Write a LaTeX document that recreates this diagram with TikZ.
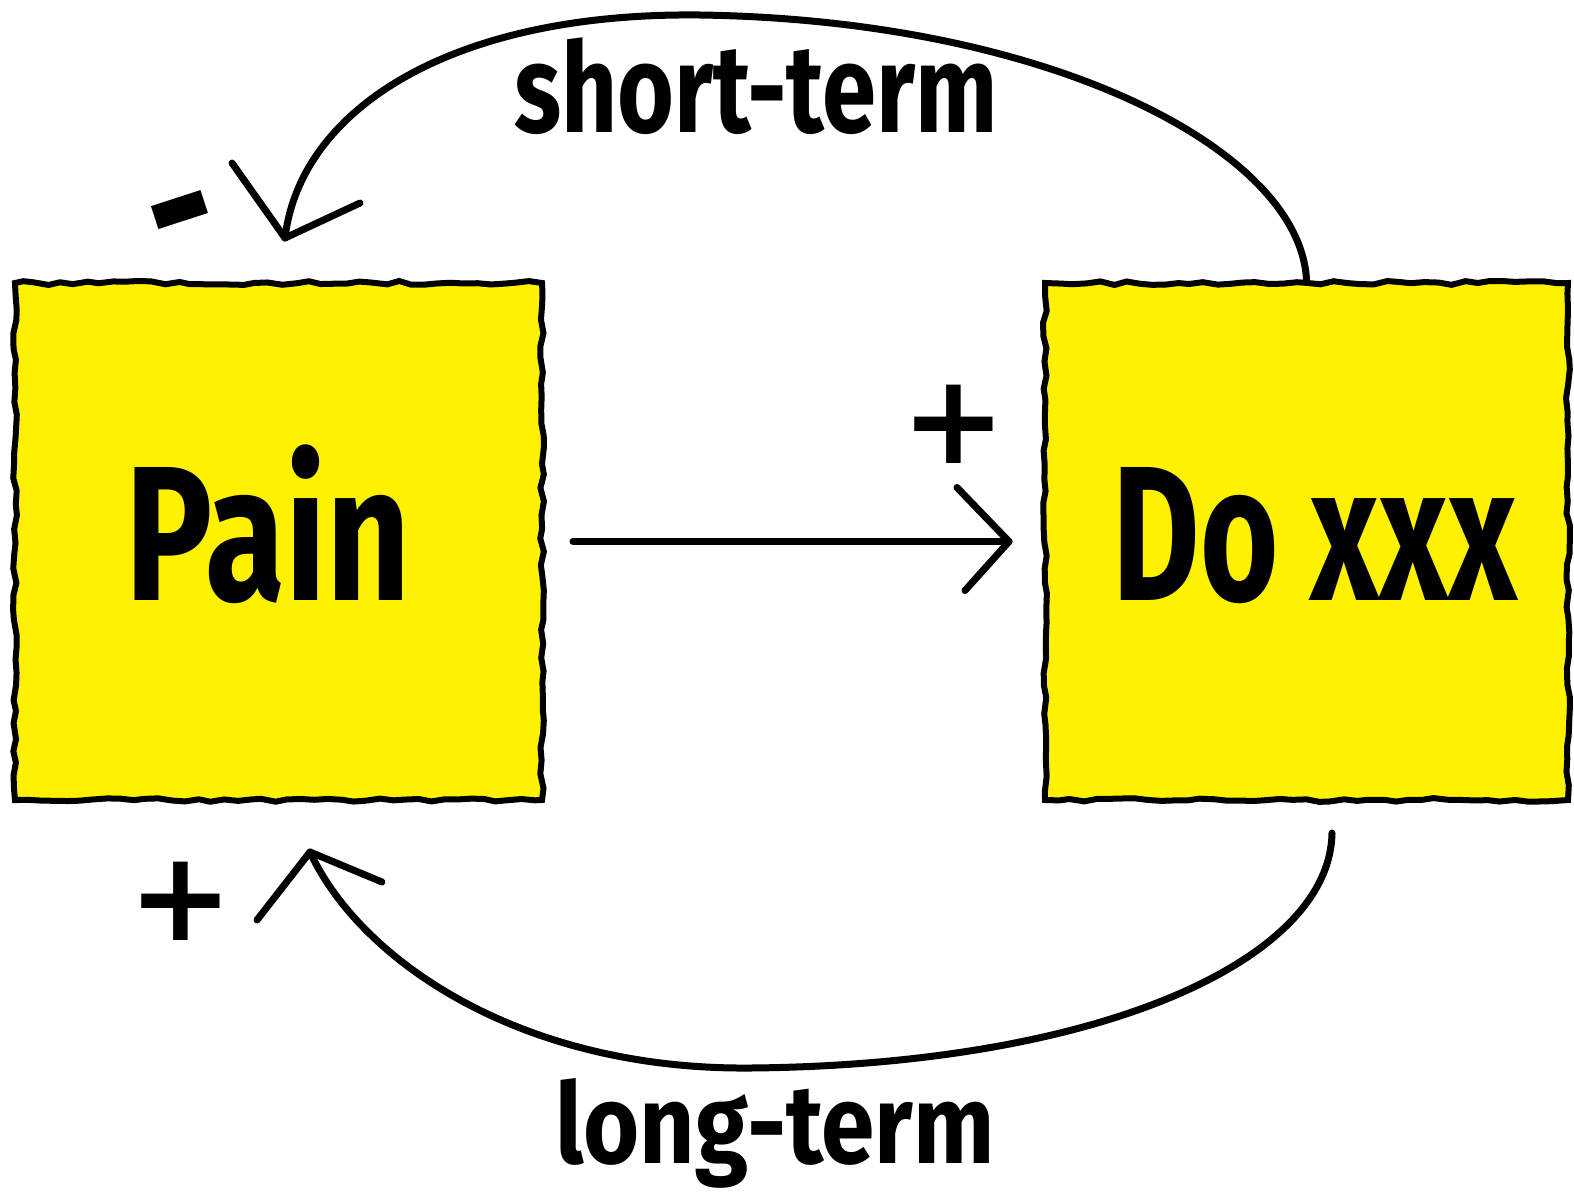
\documentclass[tikz,border=0pt]{standalone}
\usepackage{fontspec}
\usepackage{graphicx}
\setmainfont{Fira Sans}
\newfontfamily\signfont{DejaVu Sans}
\usetikzlibrary{decorations.pathmorphing}
\begin{document}
\begin{tikzpicture}[x=1pt,y=-1pt,
  box/.style={draw=black, line width=6pt, fill=yellow, decorate,
    decoration={random steps, segment length=13pt, amplitude=2pt},
    inner sep=0pt, minimum height=517pt},
  conn/.style={line width=7pt, line cap=round, line join=round},
  bigtext/.style={font=\bfseries\fontsize{192}{192}\selectfont, inner sep=0pt, anchor=base},
  termtext/.style={font=\bfseries\fontsize{125}{125}\selectfont, inner sep=0pt, anchor=base},
  sign/.style={font=\signfont\bfseries\fontsize{125}{125}\selectfont, inner sep=0pt},
]
\pgfmathsetseed{11}
\fill[white] (0,0) rectangle (1574,1195);
\useasboundingbox (0,0) rectangle (1574,1195);

% boxes
\node[box, minimum width=527pt] (pain) at (278.5,541.5) {};
\node[box, minimum width=523pt] (do) at (1306.5,541.5) {};

% box texts
\node[bigtext] (paintext) at (268,600) {\scalebox{0.76}[1]{Pain}};
\node[bigtext] (dotext) at (1315,600) {\scalebox{0.70}[1]{Do xxx}};

% arc labels
\node[termtext] (short) at (756,132) {\scalebox{0.78}[1]{short-term}};
\node[termtext, font=\bfseries\fontsize{112}{112}\selectfont] (long) at (775,1163) {\scalebox{0.86}[1]{long-term}};

% tip coordinates
\coordinate (tipA) at (285,238);
\coordinate (startB) at (1332,833);
\coordinate (tipB) at (310,852);
\coordinate (tipM) at ([xshift=-33pt]do.west);

% short-term loop
\draw[conn] (do.north) .. controls (1300,150) and (1050,20) .. (700,15)
  .. controls (450,12) and (300,110) .. (tipA);
\draw[conn] (232,163) -- (tipA) -- (360,203);

% long-term loop
\draw[conn] (startB) .. controls (1330,960) and (1100,1065) .. (750,1068)
  .. controls (520,1070) and (360,960) .. (tipB);
\draw[conn] (257,920) -- (tipB) -- (382,882);

% middle arrow
\draw[conn, shorten <=28pt] (pain.east) -- (tipM);
\draw[conn] ([xshift=-85pt,yshift=54pt]do.west) -- (tipM) -- ([xshift=-77pt,yshift=-49pt]do.west);

% signs
\node[sign] (plusM) at (954,424) {+};
\node[sign] (plusB) at (181,901) {+};
\node[sign, rotate=18, font=\signfont\bfseries\fontsize{170}{170}\selectfont] (minus) at (186,228) {-};
\end{tikzpicture}
\end{document}
